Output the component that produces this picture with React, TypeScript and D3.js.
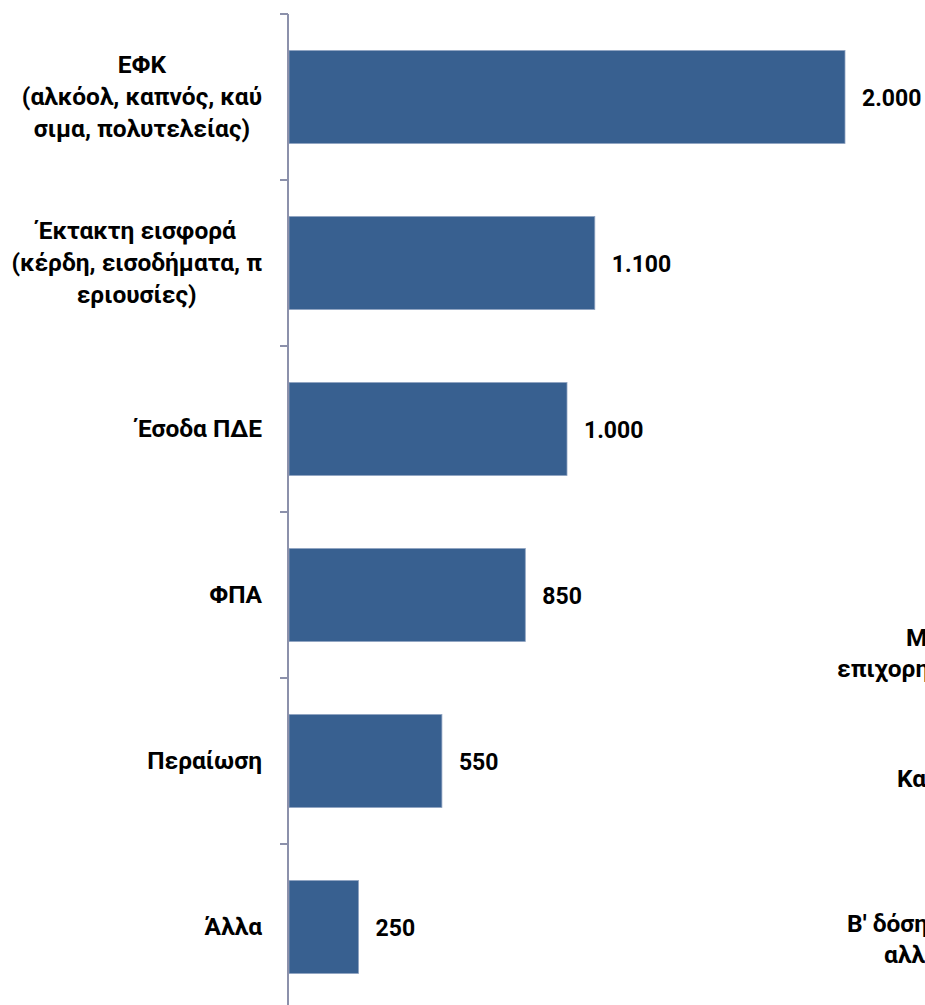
import React, { useEffect, useRef } from "react";
import * as d3 from "d3";

const categories: string[][] = [
  ["ΕΦΚ", "(αλκόολ, καπνός, καύ", "σιμα, πολυτελείας)"],
  ["Έκτακτη εισφορά", "(κέρδη, εισοδήματα, π", "εριουσίες)"],
  ["Έσοδα ΠΔΕ"],
  ["ΦΠΑ"],
  ["Περαίωση"],
  ["Άλλα"],
];
const values: number[] = [2000, 1100, 1000, 850, 550, 250];

// Fragments of the neighbouring chart's labels, cut off by the right edge
const sideLabels: { lines: string[]; x: number[]; y: number }[] = [
  { lines: ["Μέτρα", "επιχορηγήσεων"], x: [906, 837], y: 646 },
  { lines: ["Καταπολέμηση"], x: [897], y: 787 },
  { lines: ["Β' δόση", "αλλαγών"], x: [847, 884], y: 932 },
];

const W = 925;
const H = 1005;
const FONT = "Roboto, 'Noto Sans', sans-serif";
const FS = 24.5;
const VFS = 23;

export default function App() {
  const ref = useRef<SVGSVGElement | null>(null);

  useEffect(() => {
    const svg = d3.select(ref.current);
    svg.selectAll("*").remove();

    const axisX = 288;
    const x = d3.scaleLinear().domain([0, 2000]).range([axisX + 1, 845]);
    const keys = categories.map((c) => c.join(" "));
    const y = d3
      .scaleBand<string>()
      .domain(keys)
      .range([14, 1010])
      .paddingInner(0.44)
      .paddingOuter(0.22);

    const locale = d3.formatLocale({ decimal: ",", thousands: ".", grouping: [3], currency: ["€", ""] });
    const fmt = locale.format(",d");

    // bars
    svg
      .append("g")
      .selectAll("rect")
      .data(values)
      .join("rect")
      .attr("x", x(0))
      .attr("y", (_, i) => y(keys[i])!)
      .attr("width", (d) => x(d) - x(0))
      .attr("height", y.bandwidth())
      .attr("fill", "#386090")
      .attr("stroke", "#8ea2c0")
      .attr("stroke-width", 0.8);

    // axis line and ticks
    const step = y.step();
    const g = svg.append("g");
    g.append("line")
      .attr("x1", axisX)
      .attr("x2", axisX)
      .attr("y1", 14)
      .attr("y2", 1010)
      .attr("stroke", "#8c91ab")
      .attr("stroke-width", 2);
    g.selectAll("line.tick")
      .data(d3.range(categories.length + 1))
      .join("line")
      .attr("class", "tick")
      .attr("x1", axisX - 8)
      .attr("x2", axisX)
      .attr("y1", (i) => 14 + i * step)
      .attr("y2", (i) => 14 + i * step)
      .attr("stroke", "#8c91ab")
      .attr("stroke-width", 2);

    // value labels
    svg
      .append("g")
      .selectAll("text")
      .data(values)
      .join("text")
      .attr("x", (d) => x(d) + 17)
      .attr("y", (_, i) => y(keys[i])! + y.bandwidth() / 2 + 9)
      .attr("font-family", FONT)
      .attr("font-weight", "bold")
      .attr("font-size", VFS)
      .attr("fill", "#000")
      .text((d) => fmt(d));

    // category labels
    const right = 262;
    const lineH = 32;
    categories.forEach((lines, i) => {
      const cy = y(keys[i])! + y.bandwidth() / 2;
      const grp = svg.append("g");
      const texts = grp
        .selectAll("text")
        .data(lines)
        .join("text")
        .attr("font-family", FONT)
        .attr("font-weight", "bold")
        .attr("font-size", FS)
        .attr("fill", "#000")
        .attr("y", (_, j) => cy + 8 + (j - (lines.length - 1) / 2) * lineH)
        .text((d) => d);
      let maxW = 0;
      texts.each(function () {
        maxW = Math.max(maxW, (this as SVGTextElement).getComputedTextLength());
      });
      texts.attr("text-anchor", "middle").attr("x", right - maxW / 2);
    });

    // cut-off labels of the adjacent chart
    sideLabels.forEach((s) => {
      s.lines.forEach((t, j) => {
        svg
          .append("text")
          .attr("x", s.x[j])
          .attr("y", s.y + j * 31)
          .attr("font-family", FONT)
          .attr("font-weight", "bold")
          .attr("font-size", FS)
          .attr("fill", "#000")
          .text(t);
      });
    });
  }, []);

  return (
    <svg
      ref={ref}
      width={W}
      height={H}
      style={{ position: "absolute", left: 0, top: 0, background: "#fff", overflow: "hidden" }}
    />
  );
}
